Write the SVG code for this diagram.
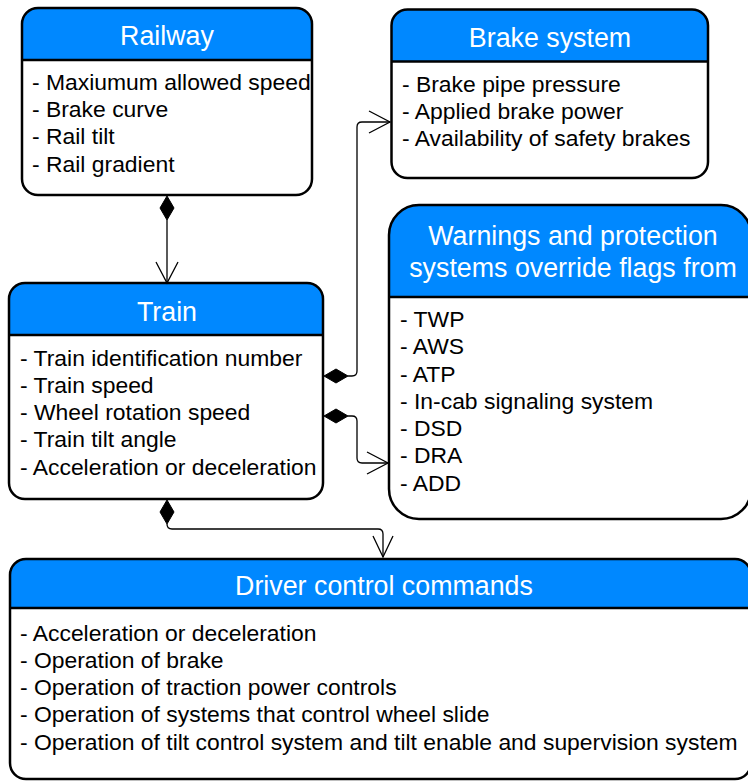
<svg xmlns="http://www.w3.org/2000/svg" width="748" height="781" viewBox="0 0 748 781">
  <style>
    .bg { fill: #ffffff; }
    .head { fill: #0088ff; }
    .frame { fill: none; stroke: #000000; stroke-width: 2.5; }
    .div { stroke: #000000; stroke-width: 2.5; }
    .title { font-family: "Liberation Sans", Arial, Helvetica, sans-serif; font-size: 26.8px; fill: #ffffff; text-anchor: middle; }
    .item { font-family: "Liberation Sans", Arial, Helvetica, sans-serif; font-size: 22.9px; fill: #000000; }
    .wire { fill: none; stroke: #000000; stroke-width: 1.3; }
    .open { fill: none; stroke: #000000; stroke-width: 1.3; stroke-linejoin: miter; }
    .dia { fill: #000000; stroke: #000000; stroke-width: 1; }
  </style>
  <rect width="748" height="781" fill="#ffffff"/>

  <!-- Railway -->
  <g id="railway">
    <rect class="bg" x="22" y="8" width="290" height="187" rx="16"/>
    <path class="head" d="M22,60 V24 A16,16 0 0 1 38,8 H296 A16,16 0 0 1 312,24 V60 Z"/>
    <rect class="frame" x="22" y="8" width="290" height="187" rx="16"/>
    <line class="div" x1="22" y1="60" x2="312" y2="60"/>
    <text class="title" x="167" y="45">Railway</text>
    <text class="item" x="32" y="90">- Maxiumum allowed speed</text>
    <text class="item" x="32" y="117">- Brake curve</text>
    <text class="item" x="32" y="144">- Rail tilt</text>
    <text class="item" x="32" y="172">- Rail gradient</text>
  </g>

  <!-- Brake system -->
  <g id="brake-system">
    <rect class="bg" x="391.5" y="9.5" width="316.5" height="168.5" rx="16"/>
    <path class="head" d="M391.5,61.5 V25.5 A16,16 0 0 1 407.5,9.5 H692 A16,16 0 0 1 708,25.5 V61.5 Z"/>
    <rect class="frame" x="391.5" y="9.5" width="316.5" height="168.5" rx="16"/>
    <line class="div" x1="391.5" y1="61.5" x2="708" y2="61.5"/>
    <text class="title" x="550" y="47">Brake system</text>
    <text class="item" x="402" y="92">- Brake pipe pressure</text>
    <text class="item" x="402" y="119">- Applied brake power</text>
    <text class="item" x="402" y="146">- Availability of safety brakes</text>
  </g>

  <!-- Warnings and protection systems -->
  <g id="warnings">
    <rect class="bg" x="389" y="205" width="362" height="314" rx="30"/>
    <path class="head" d="M389,297 V235 A30,30 0 0 1 419,205 H721 A30,30 0 0 1 751,235 V297 Z"/>
    <rect class="frame" x="389" y="205" width="362" height="314" rx="30"/>
    <line class="div" x1="389" y1="297" x2="751" y2="297"/>
    <text class="title" x="573" y="245">Warnings and protection</text>
    <text class="title" x="573" y="277">systems override flags from</text>
    <text class="item" x="400" y="327">- TWP</text>
    <text class="item" x="400" y="354">- AWS</text>
    <text class="item" x="400" y="382">- ATP</text>
    <text class="item" x="400" y="409">- In-cab signaling system</text>
    <text class="item" x="400" y="436">- DSD</text>
    <text class="item" x="400" y="463">- DRA</text>
    <text class="item" x="400" y="491">- ADD</text>
  </g>

  <!-- Train -->
  <g id="train">
    <rect class="bg" x="9" y="283" width="314" height="216" rx="16"/>
    <path class="head" d="M9,335 V299 A16,16 0 0 1 25,283 H307 A16,16 0 0 1 323,299 V335 Z"/>
    <rect class="frame" x="9" y="283" width="314" height="216" rx="16"/>
    <line class="div" x1="9" y1="335" x2="323" y2="335"/>
    <text class="title" x="167" y="321">Train</text>
    <text class="item" x="20" y="366">- Train identification number</text>
    <text class="item" x="20" y="393">- Train speed</text>
    <text class="item" x="20" y="420">- Wheel rotation speed</text>
    <text class="item" x="20" y="447">- Train tilt angle</text>
    <text class="item" x="20" y="475">- Acceleration or deceleration</text>
  </g>

  <!-- Driver control commands -->
  <g id="driver-commands">
    <rect class="bg" x="10" y="559" width="741" height="220" rx="16"/>
    <path class="head" d="M10,608 V575 A16,16 0 0 1 26,559 H735 A16,16 0 0 1 751,575 V608 Z"/>
    <rect class="frame" x="10" y="559" width="741" height="220" rx="16"/>
    <line class="div" x1="10" y1="608" x2="751" y2="608"/>
    <text class="title" x="384" y="595">Driver control commands</text>
    <text class="item" x="20" y="641">- Acceleration or deceleration</text>
    <text class="item" x="20" y="668">- Operation of brake</text>
    <text class="item" x="20" y="695">- Operation of traction power controls</text>
    <text class="item" x="20" y="722">- Operation of systems that control wheel slide</text>
    <text class="item" x="20" y="750">- Operation of tilt control system and tilt enable and supervision system</text>
  </g>

  <!-- Composition connectors: filled diamond at the owner, open arrow at the part -->
  <g id="connectors">
    <!-- Railway to Train -->
    <path class="wire" d="M167,220 V282"/>
    <polygon class="dia" points="167,196 174,208 167,220 160,208"/>
    <polyline class="open" points="156,262 167,283 178,262"/>

    <!-- Train to Brake system -->
    <path class="wire" d="M348,376 H352 Q357,376 357,371 V127 Q357,122 362,122 H390"/>
    <polygon class="dia" points="324,376 336,369 348,376 336,383"/>
    <polyline class="open" points="369,111 390,122 369,133"/>

    <!-- Train to Warnings -->
    <path class="wire" d="M348,416 H352 Q357,416 357,421 V458 Q357,463 362,463 H388"/>
    <polygon class="dia" points="324,416 336,409 348,416 336,423"/>
    <polyline class="open" points="367,452 388,463 367,474"/>

    <!-- Train to Driver control commands -->
    <path class="wire" d="M167,524 Q167,529 172,529 H378 Q383,529 383,534 V557"/>
    <polygon class="dia" points="167,500 174,512 167,524 160,512"/>
    <polyline class="open" points="373,536 383,557 393,536"/>
  </g>
</svg>
